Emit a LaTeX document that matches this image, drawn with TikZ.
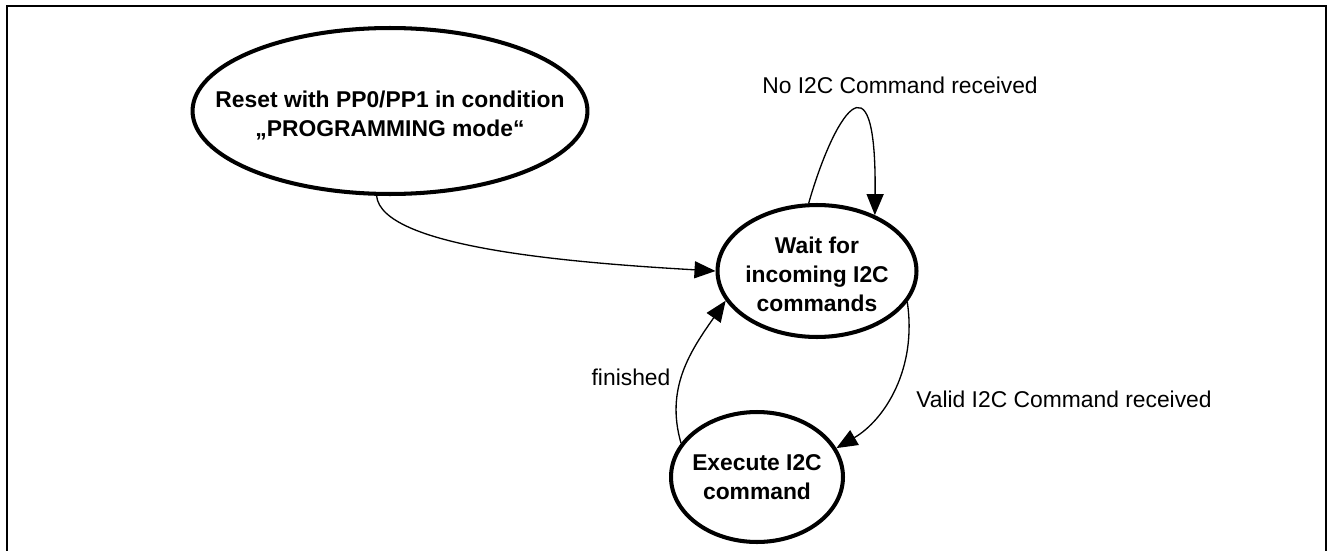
\documentclass[tikz,border=0pt]{standalone}
\usepackage{fontspec}
\setmainfont{Liberation Sans}
\usetikzlibrary{arrows.meta,shapes.geometric}

\begin{document}
\begin{tikzpicture}[x=0.02cm, y=-0.02cm, >={Triangle[length=0.42cm, width=0.34cm]},
  font=\fontsize{13pt}{16pt}\selectfont,
  state/.style={ellipse, draw=ink, line width=2.3pt, inner sep=0pt},
  statetext/.style={font=\bfseries\fontsize{13pt}{16.5pt}\selectfont, align=center, text=ink},
  trans/.style={->, draw=ink, line width=0.75pt},
  edgelabel/.style={anchor=base, text=ink}]
  \definecolor{ink}{HTML}{000000}
  \useasboundingbox (0,0) rectangle (1329,551);
  \draw[ink, line width=1.1pt] (7,551) -- (7,6) -- (1326,6) -- (1326,551);
  \node[state, minimum width=7.9cm, minimum height=3.32cm,
    label={[statetext, yshift=-0.08cm]center:Reset with PP0/PP1 in condition\\„PROGRAMMING mode“}] (reset) at (390,111) {};
  \node[state, minimum width=3.98cm, minimum height=2.64cm,
    label={[statetext, yshift=-0.07cm]center:Wait for\\incoming I2C\\commands}] (wait) at (817,271) {};
  \node[state, minimum width=3.44cm, minimum height=2.6cm,
    label={[statetext]center:Execute I2C\\command}] (exec) at (757,477) {};
  \draw[trans] (reset.261) .. controls +(5,50) and +(-158,-9) .. (wait.west);
  \draw[trans] (wait.97) .. controls +(24,-84) and +(2,-173) .. (wait.44);
  \draw[trans] (wait.-19) .. controls +(10,67) and +(48,-28) .. (exec.20);
  \draw[trans] (exec.156) .. controls +(-16,-55) and +(-35,50) .. (wait.198);
  \node[edgelabel] (noCmd) at (900,93) {No I2C Command received};
  \node[edgelabel] (validCmd) at (1064,407) {Valid I2C Command received};
  \node[edgelabel] (done) at (631,385) {finished};
\end{tikzpicture}
\end{document}
